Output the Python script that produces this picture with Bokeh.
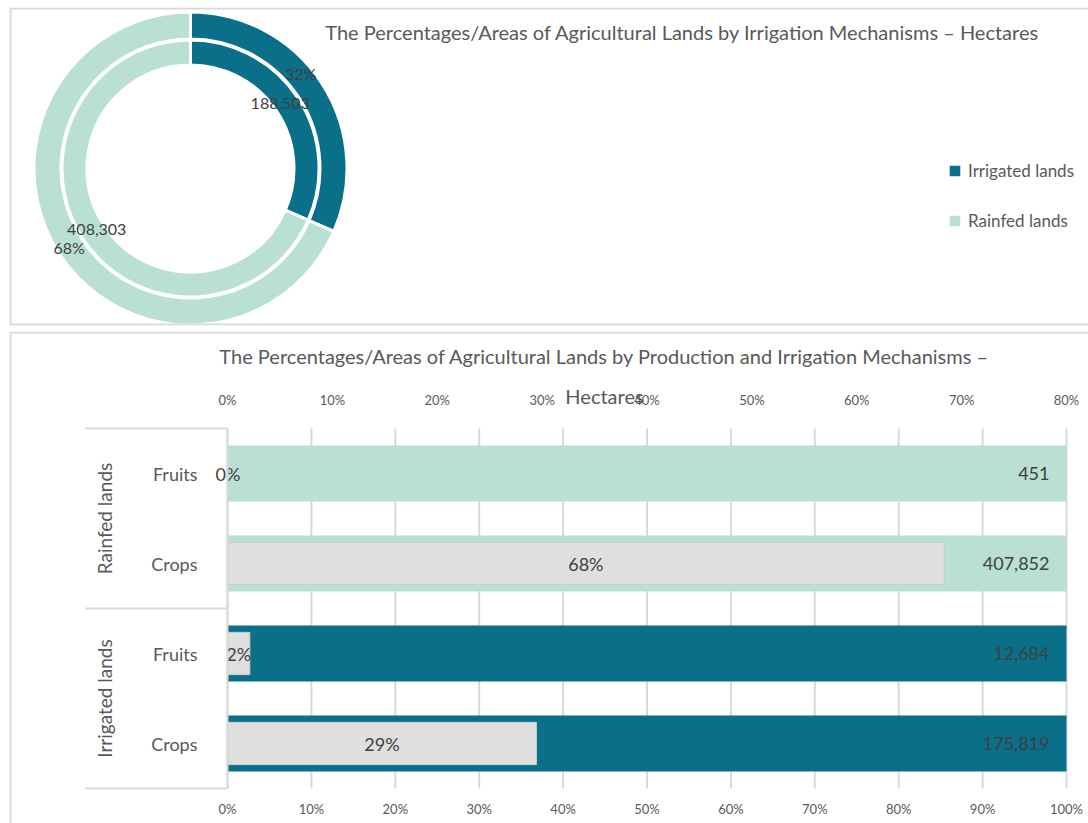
import numpy as np
from bokeh.plotting import figure
from bokeh.models import (ColumnDataSource, Range1d, LinearAxis, FixedTicker, Span,
                          PrintfTickFormatter, Legend, LegendItem, Label)
from bokeh.layouts import column
from bokeh.embed import file_html
from bokeh.resources import INLINE
from bokeh.core.properties import value

# ---------------- data ----------------
land_types = ["Irrigated lands", "Rainfed lands"]
land_hectares = [188503, 408303]
land_pct_labels = ["32%", "68%"]
land_value_labels = ["188,503", "408,303"]

bar_groups = ["Rainfed lands", "Rainfed lands", "Irrigated lands", "Irrigated lands"]
bar_products = ["Fruits", "Crops", "Fruits", "Crops"]
bar_hectare_labels = ["451", "407,852", "12,684", "175,819"]
bar_full_pct = [100, 100, 100, 100]
bar_share_pct = [0.08, 68.34, 2.13, 29.46]
bar_share_labels = ["0%", "68%", "2%", "29%"]

top_ticks = [0, 10, 20, 30, 40, 50, 60, 70, 80]
bottom_ticks = [0, 10, 20, 30, 40, 50, 60, 70, 80, 90, 100]

# ---------------- style / layout ----------------
TEAL = "#0A6F88"
MINT = "#B9E0D3"
GREY = "#DFDFDF"
TXT = "#595959"
LBL = "#404040"
LINE = "#D9D9D9"
FONT = "Lato"

W = 1088
H1, H2 = 328, 495

# ================= top panel: doughnut =================
P1_L, P1_T, P1_B = 9, 7, 325
p1 = figure(width=W, height=H1, x_range=Range1d(0, W - P1_L), y_range=Range1d(0, P1_B - P1_T),
            x_axis_type=None, y_axis_type=None, output_backend="svg", toolbar_location=None,
            min_border_left=P1_L, min_border_right=0, min_border_top=P1_T,
            min_border_bottom=H1 - P1_B)
p1.grid.visible = False
p1.outline_line_color = None

for loc, dim in ((1, "height"), (1, "width"), (P1_B - P1_T - 1, "width")):
    p1.add_layout(Span(location=loc, dimension=dim, line_color=LINE, line_width=2))

CX, CY = 190 - P1_L, P1_B - 168
vals = np.array(land_hectares, dtype=float)
frac = vals / vals.sum()
cum = np.concatenate([[0], np.cumsum(frac)])
starts = np.pi / 2 - 2 * np.pi * cum[:-1]
ends = np.pi / 2 - 2 * np.pi * cum[1:]
mids = (starts + ends) / 2
colors = [TEAL, MINT]

ring_src = ColumnDataSource(dict(start=starts, end=ends, color=colors, name=land_types))
r_outer = p1.annular_wedge(x=CX, y=CY, inner_radius=129.5, outer_radius=156.5,
                           start_angle="start", end_angle="end", direction="clock",
                           fill_color="color", line_color="white", line_width=3, source=ring_src)
r_inner = p1.annular_wedge(x=CX, y=CY, inner_radius=103.5, outer_radius=128.5,
                           start_angle="start", end_angle="end", direction="clock",
                           fill_color="color", line_color="white", line_width=3, source=ring_src)

lab_src = ColumnDataSource(dict(
    px=CX + 145 * np.cos(mids), py=CY + 145 * np.sin(mids), pt=land_pct_labels,
    vx=CX + 112 * np.cos(mids), vy=CY + 112 * np.sin(mids), vt=land_value_labels,
    pox=[-11, 0], poy=[-16, 0], vox=[-4, 0], voy=[-4, 0]))
p1.text(x="px", y="py", text="pt", x_offset="pox", y_offset="poy", source=lab_src,
        text_align="center", text_baseline="middle", text_font=value(FONT),
        text_font_size="16px", text_color=LBL)
p1.text(x="vx", y="vy", text="vt", x_offset="vox", y_offset="voy", source=lab_src,
        text_align="center", text_baseline="middle", text_font=value(FONT),
        text_font_size="16px", text_color=LBL)

legend = Legend(items=[LegendItem(label=land_types[0], renderers=[r_outer], index=0),
                       LegendItem(label=land_types[1], renderers=[r_outer], index=1)],
                location=(937, 94), orientation="vertical", padding=0, margin=0,
                border_line_color=None, background_fill_alpha=0,
                glyph_width=17, glyph_height=17, label_standoff=5, spacing=29,
                label_height=20, label_text_font=FONT, label_text_font_size="17px",
                label_text_color=TXT)
p1.add_layout(legend)

p1.add_layout(Label(x=682, y=31, x_units="canvas", y_units="canvas",
                    text="The Percentages/Areas of Agricultural Lands by Irrigation Mechanisms \u2013 Hectares",
                    text_align="center", text_baseline="middle", text_font=FONT,
                    text_font_size="20px", text_color=TXT))

# ================= bottom panel: bars =================
P2_L, P2_T = 9, 3                 # frame edges inside p2 canvas
PLOT_L, PLOT_R = 227, 1066        # canvas x of 0% and 100%
ROW0, STEP = 473 - H1, 90         # canvas y of first row centre, row pitch

n = len(bar_products)
ypos = list(range(n - 1, -1, -1))          # top row gets highest value
S = (PLOT_R - PLOT_L) / 100.0
x_start = (P2_L - PLOT_L) / S
x_end = 100 + (W - PLOT_R) / S
y_end = ypos[0] + (ROW0 - P2_T) / STEP
y_start = ypos[-1] - (H2 - (ROW0 + (n - 1) * STEP)) / STEP
sec_f = top_ticks[-1] / 100.0

p2 = figure(width=W, height=H2, x_range=Range1d(x_start, x_end), y_range=Range1d(y_start, y_end),
            x_axis_type=None, y_axis_type=None, output_backend="svg", toolbar_location=None,
            min_border_left=P2_L, min_border_right=0, min_border_top=P2_T, min_border_bottom=0)
p2.extra_x_ranges = {"sec": Range1d(x_start * sec_f, x_end * sec_f)}
p2.outline_line_color = None
p2.grid.visible = False

p2.add_layout(Span(location=x_start + 1 / S, dimension="height", line_color=LINE, line_width=2))
p2.add_layout(Span(location=y_end - 1 / STEP, dimension="width", line_color=LINE, line_width=2))

y_lo, y_hi = min(ypos) - 0.5, max(ypos) + 0.5

# vertical gridlines (only across the plot area)
p2.segment(x0=bottom_ticks, x1=bottom_ticks, y0=y_lo, y1=y_hi, line_color=LINE, line_width=2)

bar_colors = [MINT if g == "Rainfed lands" else TEAL for g in bar_groups]
bar_src = ColumnDataSource(dict(y=ypos, full=bar_full_pct, share=bar_share_pct,
                                half=[v / 2 for v in bar_share_pct],
                                hl=bar_hectare_labels, sl=bar_share_labels, color=bar_colors))
p2.hbar(y="y", left=0, right="full", height=0.62, fill_color="color", line_color=None,
        source=bar_src)
p2.hbar(y="y", left=0, right="share", height=0.47, fill_color=GREY, line_color="#CBCBCB",
        line_width=1, source=bar_src, x_range_name="sec")
p2.text(x="full", y="y", text="hl", x_offset=-17, source=bar_src, text_align="right",
        text_baseline="middle", text_font=value(FONT), text_font_size="18px", text_color=LBL)
p2.text(x="half", y="y", text="sl", source=bar_src, x_range_name="sec", text_align="center",
        text_baseline="middle", text_font=value(FONT), text_font_size="18px", text_color=LBL)

# category group boundaries and group labels
groups = []
for g, y in zip(bar_groups, ypos):
    if not groups or groups[-1][0] != g:
        groups.append([g, []])
    groups[-1][1].append(y)
bounds_y = sorted({y_hi, y_lo} | {min(ys) - 0.5 for _, ys in groups})
cat_x0 = (85 - PLOT_L) / S
p2.segment(x0=cat_x0, x1=0, y0=bounds_y, y1=bounds_y, line_color=LINE, line_width=2)
p2.text(x=0, y=[float(np.mean(ys)) for _, ys in groups], text=[g for g, _ in groups],
        angle=np.pi / 2, x_offset=-123, text_align="center", text_baseline="middle",
        text_font=value(FONT), text_font_size="19px", text_color=TXT)


def style_axis(ax, size):
    ax.major_tick_line_color = None
    ax.minor_tick_line_color = None
    ax.major_label_text_font = FONT
    ax.major_label_text_font_size = size
    ax.major_label_text_color = TXT


# bottom axis (primary 0-100 %)
xa = LinearAxis(ticker=FixedTicker(ticks=bottom_ticks), formatter=PrintfTickFormatter(format="%d%%"),
                fixed_location=y_lo)
style_axis(xa, "13px")
xa.axis_line_color = None
xa.major_label_standoff = 6
p2.add_layout(xa, "below")

# top axis (secondary 0-80 %)
ta = LinearAxis(x_range_name="sec", ticker=FixedTicker(ticks=top_ticks),
                formatter=PrintfTickFormatter(format="%d%%"), fixed_location=y_hi)
style_axis(ta, "13px")
ta.axis_line_color = None
ta.major_label_standoff = 15
p2.add_layout(ta, "above")

# category axis
ya = LinearAxis(ticker=FixedTicker(ticks=ypos),
                major_label_overrides={y: p for y, p in zip(ypos, bar_products)},
                fixed_location=0, bounds=(y_lo, y_hi))
style_axis(ya, "18px")
ya.axis_line_color = LINE
ya.axis_line_width = 2
ya.major_label_standoff = 24
p2.add_layout(ya, "left")

p2.add_layout(Label(x=604, y=355 - H1, x_units="canvas", y_units="canvas",
                    text="The Percentages/Areas of Agricultural Lands by Production and Irrigation Mechanisms \u2013",
                    text_align="center", text_baseline="middle", text_font=FONT,
                    text_font_size="20px", text_color=TXT))
p2.add_layout(Label(x=604, y=395 - H1, x_units="canvas", y_units="canvas", text="Hectares",
                    text_align="center", text_baseline="middle", text_font=FONT,
                    text_font_size="20px", text_color=TXT))

layout = column(p1, p2, spacing=0)
open("out.html", "w").write(file_html(layout, INLINE))
